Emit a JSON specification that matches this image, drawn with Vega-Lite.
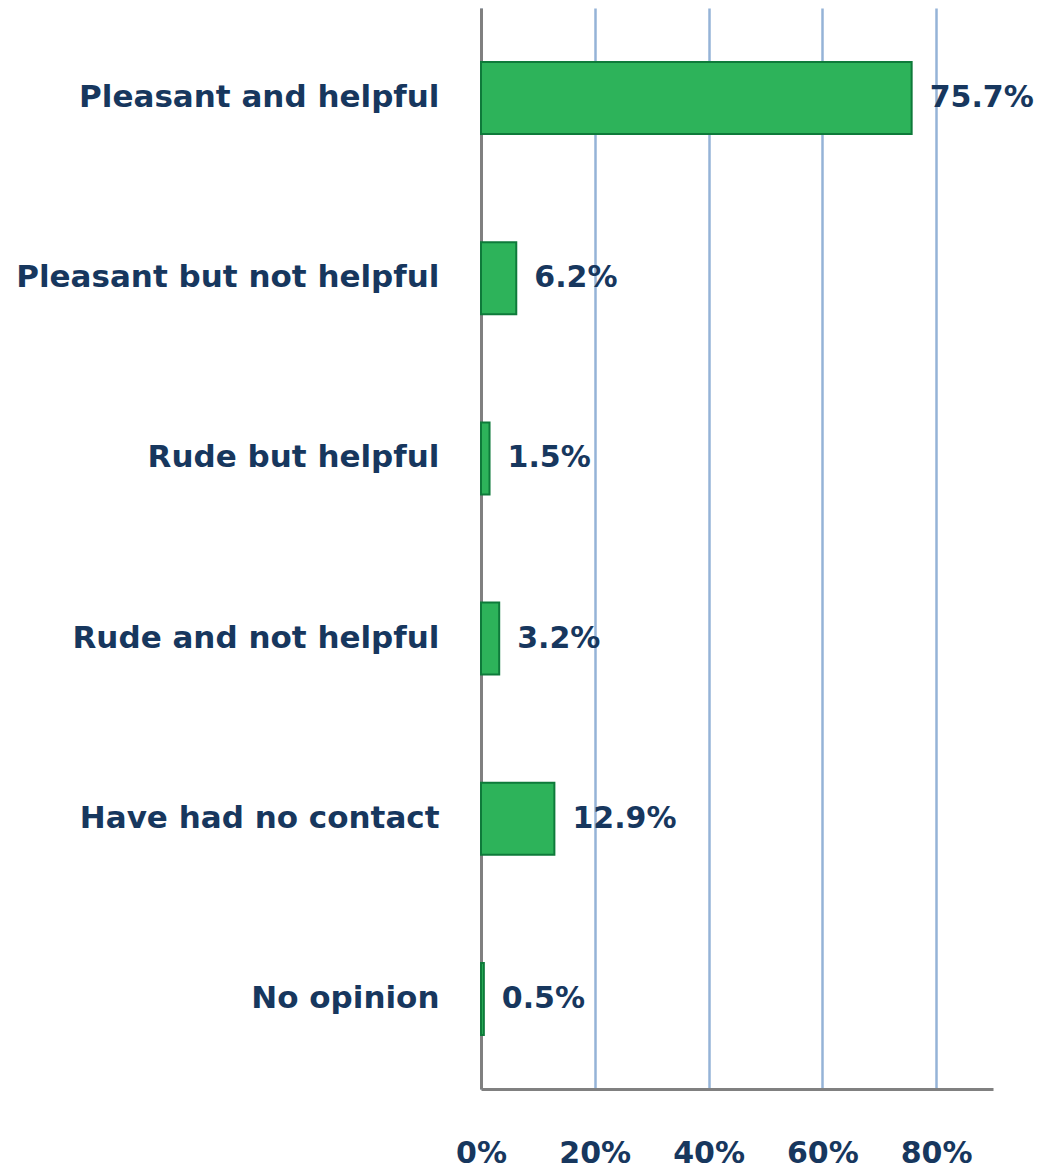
{
  "$schema": "https://vega.github.io/schema/vega-lite/v6.json",
  "width": 512,
  "height": 1081,
  "autosize": "none",
  "padding": {"left": 481, "top": 8, "right": 54, "bottom": 84},
  "background": "white",
  "config": {"view": {"stroke": null}},
  "data": {"values": [
    {"category": "Pleasant and helpful", "value": 0.757, "label": "75.7%"},
    {"category": "Pleasant but not helpful", "value": 0.062, "label": "6.2%"},
    {"category": "Rude but helpful", "value": 0.015, "label": "1.5%"},
    {"category": "Rude and not helpful", "value": 0.032, "label": "3.2%"},
    {"category": "Have had no contact", "value": 0.129, "label": "12.9%"},
    {"category": "No opinion", "value": 0.005, "label": "0.5%"}
  ]},
  "encoding": {
    "y": {"field": "category", "type": "nominal", "sort": null,
      "scale": {"paddingInner": 0.6, "paddingOuter": 0.3},
      "axis": {"title": null, "ticks": false, "domainColor": "#808080", "domainWidth": 3,
        "labelFont": "DejaVu Sans", "labelFontWeight": "bold", "labelFontSize": 31,
        "labelColor": "#17375E", "labelPadding": 42, "labelLimit": 500}},
    "x": {"field": "value", "type": "quantitative",
      "scale": {"domain": [0, 0.9], "nice": false},
      "axis": {"title": null, "format": ".0%", "values": [0, 0.2, 0.4, 0.6, 0.8],
        "ticks": false, "domainColor": "#808080", "domainWidth": 3,
        "grid": true, "gridColor": "#95B3D7", "gridWidth": 2.5,
        "labelFont": "DejaVu Sans", "labelFontWeight": "bold", "labelFontSize": 30,
        "labelColor": "#17375E", "labelPadding": 49, "labelFlush": false}}
  },
  "layer": [
    {"mark": {"type": "bar", "color": "#2DB35A", "stroke": "#0E7A3A", "strokeWidth": 2}},
    {"mark": {"type": "text", "align": "left", "dx": 18, "font": "DejaVu Sans", "fontWeight": "bold",
      "fontSize": 30, "color": "#17375E"},
     "encoding": {"text": {"field": "label"}}}
  ]
}
